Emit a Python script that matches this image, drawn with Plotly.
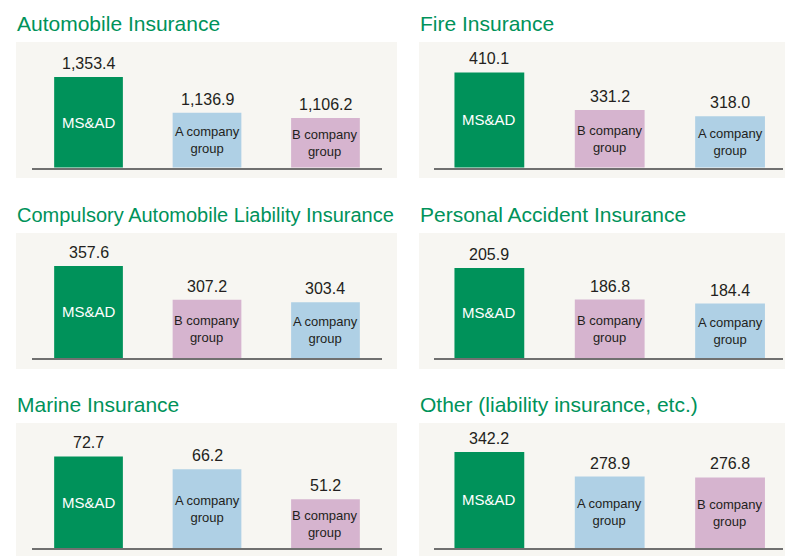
import plotly.graph_objects as go

# ---------------- data ----------------
titles = [
    "Automobile Insurance",
    "Fire Insurance",
    "Compulsory Automobile Liability Insurance",
    "Personal Accident Insurance",
    "Marine Insurance",
    "Other (liability insurance, etc.)",
]
companies_auto = ["MS&AD", "A company group", "B company group"]
values_auto = [1353.4, 1136.9, 1106.2]
companies_fire = ["MS&AD", "B company group", "A company group"]
values_fire = [410.1, 331.2, 318.0]
companies_cali = ["MS&AD", "B company group", "A company group"]
values_cali = [357.6, 307.2, 303.4]
companies_pa = ["MS&AD", "B company group", "A company group"]
values_pa = [205.9, 186.8, 184.4]
companies_marine = ["MS&AD", "A company group", "B company group"]
values_marine = [72.7, 66.2, 51.2]
companies_other = ["MS&AD", "A company group", "B company group"]
values_other = [342.2, 278.9, 276.8]

panels = [
    (titles[0], companies_auto, values_auto),
    (titles[1], companies_fire, values_fire),
    (titles[2], companies_cali, values_cali),
    (titles[3], companies_pa, values_pa),
    (titles[4], companies_marine, values_marine),
    (titles[5], companies_other, values_other),
]

# ---------------- styling ----------------
W, H = 785, 556
GREEN = "#00925a"
BLUE = "#afd0e5"
PINK = "#d6b4cf"
BG = "#f7f6f2"
TEXT = "#231f20"
colors = {"MS&AD": GREEN, "A company group": BLUE, "B company group": PINK}
FONT = "Liberation Sans, Arial, Helvetica, sans-serif"
NARROW = "Liberation Sans Narrow, Arial Narrow, Liberation Sans, sans-serif"
title_sizes = [21, 21, 20, 21, 21, 21]

# pixel layout: columns (bg_x0, bg_x1, plot_x0, plot_x1, xrange); rows (bg_y0, bg_y1, baseline_y)
cols = [(16, 397, 32, 382, (-0.477, 2.477)), (419, 785, 434, 783, (-0.46, 2.44))]
rows = [(42, 178, 167.5), (233, 369, 358), (423, 556, 548)]
# y-axis ranges (visual scale of the infographic)
yranges = [
    (807, 1564), (210, 474),
    (220.3, 406.7), (151.5, 227.0),
    (26.65, 89.5), (95.3, 416.7),
]


def px(x):
    return x / W


def py(y):
    return 1 - y / H


fig = go.Figure()
shapes = []
annotations = []

for i, (title, comps, vals) in enumerate(panels):
    r, c = divmod(i, 2)
    bx0, bx1, px0, px1, xr = cols[c]
    by0, by1, base = rows[r]
    idx = "" if i == 0 else str(i + 1)
    xa, ya = "x" + idx, "y" + idx
    y0 = yranges[i][0]

    shapes.append(dict(type="rect", xref="paper", yref="paper",
                       x0=px(bx0), x1=px(bx1), y0=py(by1), y1=py(by0),
                       fillcolor=BG, line=dict(width=0), layer="below"))

    fig.add_trace(go.Bar(
        x=list(range(len(comps))), y=vals,
        marker=dict(color=[colors[n] for n in comps], line=dict(width=0)),
        width=0.58,
        hoverinfo="skip", showlegend=False,
        xaxis=xa, yaxis=ya,
    ))

    for j, (n, v) in enumerate(zip(comps, vals)):
        # value above bar
        annotations.append(dict(
            x=j, y=v, xref=xa, yref=ya, text=f"{v:,.1f}", showarrow=False,
            yanchor="bottom", yshift=3,
            font=dict(family=FONT, size=16, color=TEXT)))
        # name inside bar (centred in the visible part of the bar)
        if n == "MS&AD":
            annotations.append(dict(
                x=j, y=(y0 + v) / 2, xref=xa, yref=ya, text=n, showarrow=False,
                yanchor="middle", font=dict(family=FONT, size=15, color="white")))
        else:
            annotations.append(dict(
                x=j, y=(y0 + v) / 2, xref=xa, yref=ya,
                text=n.replace(" company ", " company<br>"), showarrow=False,
                yanchor="middle",
                font=dict(family=NARROW, size=13, color=TEXT)))

    annotations.append(dict(
        x=px(16 if c == 0 else 419), y=py(by0 - 5), xref="paper", yref="paper",
        text=title, showarrow=False, xanchor="left", yanchor="bottom",
        xshift=-1,
        font=dict(family=FONT, size=title_sizes[i], color=GREEN)))

    fig.update_layout({
        "xaxis" + idx: dict(domain=[px(px0), px(px1)], anchor=ya, range=list(xr),
                            showgrid=False, zeroline=False, showticklabels=False,
                            ticks="", showline=True, linecolor="#707070", linewidth=2,
                            fixedrange=True),
        "yaxis" + idx: dict(domain=[py(base), py(by0)], anchor=xa, range=list(yranges[i]),
                            showgrid=False, zeroline=False, showticklabels=False,
                            ticks="", showline=False, fixedrange=True),
    })

fig.update_layout(
    width=W, height=H,
    margin=dict(l=0, r=0, t=0, b=0),
    paper_bgcolor="white", plot_bgcolor="rgba(0,0,0,0)",
    shapes=shapes, annotations=annotations,
)

fig.write_html("out.html", config={"displayModeBar": False},
               post_script="document.body.style.margin='0';document.body.style.padding='0';")
